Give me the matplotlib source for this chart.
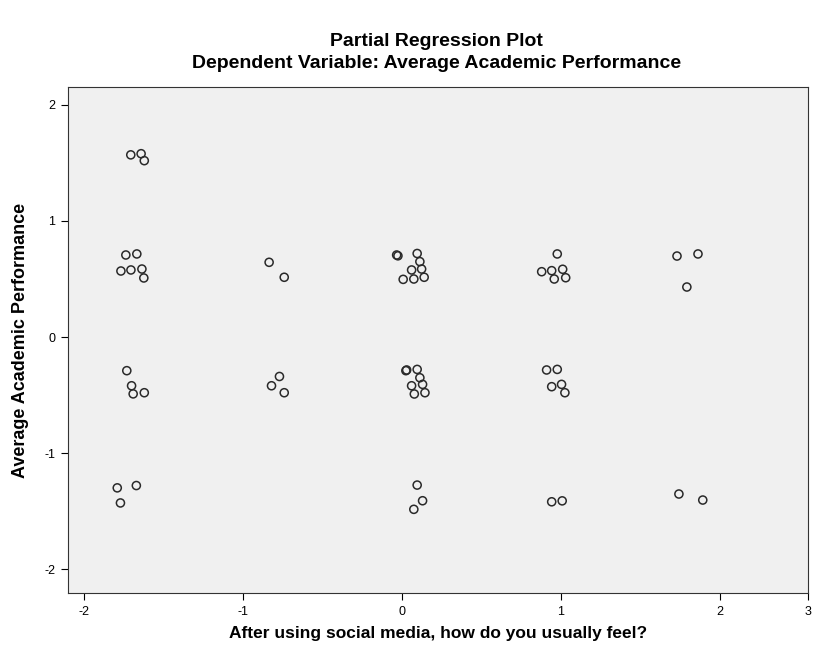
import numpy as np
import matplotlib.pyplot as plt

plt.rcParams['font.family'] = ['Liberation Sans', 'DejaVu Sans']

# residuals of the x variable (feeling after social media use)
feel_resid = [
    -1.705, -1.640, -1.620,
    -1.736, -1.667, -1.767, -1.704, -1.635, -1.623,
    -1.730, -1.700, -1.690, -1.620,
    -1.790, -1.670, -1.770,
    -0.835, -0.740,
    -0.770, -0.820, -0.740,
    -0.033, -0.025, 0.096, 0.113, 0.061, 0.124, 0.008, 0.075, 0.140,
    0.030, 0.025, 0.096, 0.113, 0.061, 0.130, 0.078, 0.145,
    0.096, 0.130, 0.075,
    0.977, 0.879, 0.942, 1.011, 0.958, 1.030,
    0.910, 0.977, 0.942, 1.004, 1.025,
    0.942, 1.008,
    1.730, 1.862, 1.792,
    1.742, 1.892,
]
# residuals of average academic performance
perf_resid = [
    1.57, 1.58, 1.52,
    0.707, 0.716, 0.569, 0.578, 0.586, 0.509,
    -0.290, -0.420, -0.490, -0.480,
    -1.300, -1.280, -1.430,
    0.644, 0.515,
    -0.340, -0.420, -0.480,
    0.707, 0.700, 0.720, 0.650, 0.578, 0.586, 0.497, 0.500, 0.515,
    -0.284, -0.290, -0.279, -0.351, -0.420, -0.408, -0.491, -0.480,
    -1.276, -1.411, -1.485,
    0.716, 0.563, 0.572, 0.584, 0.500, 0.511,
    -0.284, -0.279, -0.428, -0.408, -0.480,
    -1.420, -1.412,
    0.698, 0.716, 0.431,
    -1.353, -1.405,
]

x_ticks = [-2, -1, 0, 1, 2]
y_ticks = [-2, -1, 0, 1, 2]
xmin, xmax = -2.10, 2.553
ymin, ymax = -2.207, 2.155

fig = plt.figure(figsize=(8.37, 6.59), dpi=100)
ax = fig.add_axes([0.0812, 0.100, 0.884, 0.768])
ax.set_facecolor('#f0f0f0')

ax.scatter(feel_resid, perf_resid, s=34, facecolors='none',
           edgecolors='#2a2a2a', linewidths=1.1, zorder=3)

ax.set_xlim(xmin, xmax)
ax.set_ylim(ymin, ymax)
# SPSS puts the last label on the axis end
ax.set_xticks(x_ticks + [xmax])
ax.set_xticklabels([str(t) for t in x_ticks] + ['3'])
ax.set_yticks(y_ticks)
ax.set_yticklabels([str(t) for t in y_ticks])
ax.tick_params(direction='out', length=5, width=0.8, labelsize=9,
               colors='black', pad=4)
for s in ax.spines.values():
    s.set_color('#333333')
    s.set_linewidth(0.8)

ax.set_xlabel('After using social media, how do you usually feel?',
              fontsize=12.5, fontweight='bold', labelpad=6)
ax.set_ylabel('Average Academic Performance',
              fontsize=13, fontweight='bold', labelpad=11)

fig.text(0.522, 1 - 41 / 659, 'Partial Regression Plot',
         ha='center', va='center', fontsize=14, fontweight='bold')
fig.text(0.522, 1 - 64 / 659, 'Dependent Variable: Average Academic Performance',
         ha='center', va='center', fontsize=14, fontweight='bold')

fig.savefig('out.png', dpi=100)
